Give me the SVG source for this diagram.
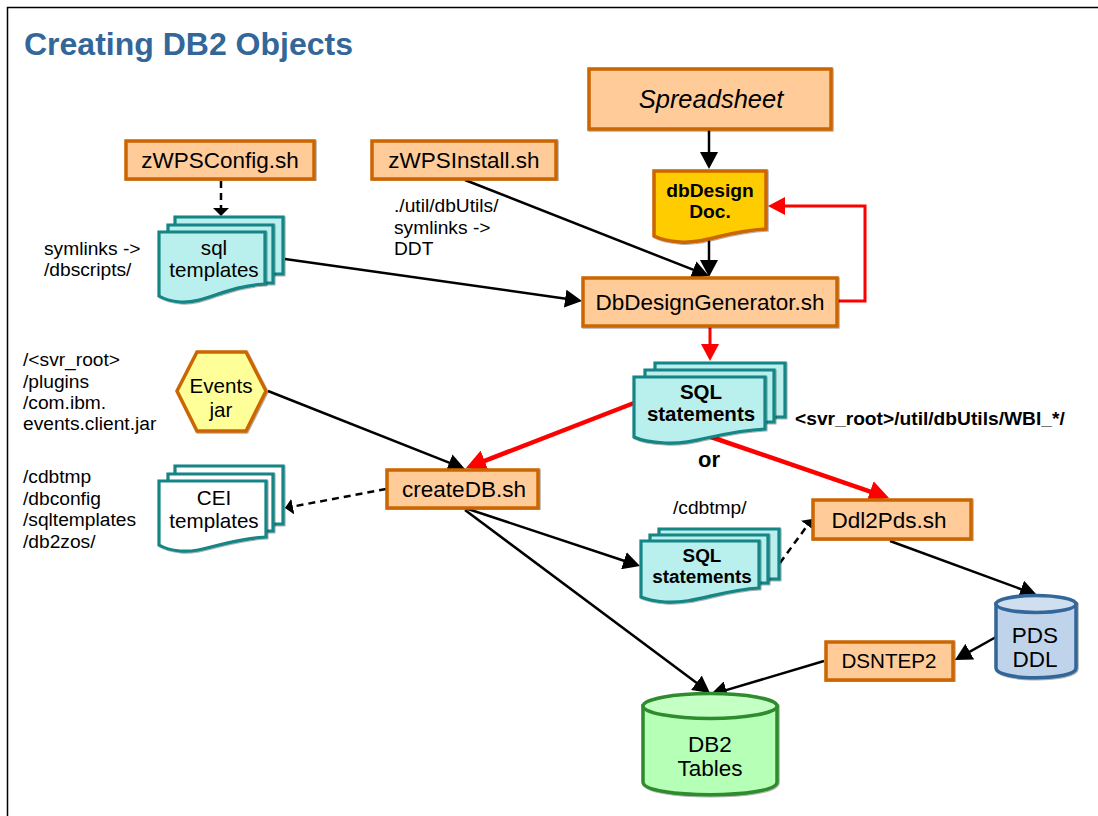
<svg xmlns="http://www.w3.org/2000/svg" width="1098" height="816" viewBox="0 0 1098 816">
<style>
text{font-family:"Liberation Sans",Arial,sans-serif;fill:#000;text-anchor:middle}
.t{font-size:22.5px}
.m{font-size:20.6px}
.l{font-size:19.2px;text-anchor:start}
.b{font-weight:bold}
.box{fill:#ffcc99;stroke:#cc6600;stroke-width:3.5;filter:url(#sh)}
.doc{fill:#b9efec;stroke:#128585;stroke-width:3.2;filter:url(#sh)}
.cei{fill:#fff;stroke:#128585;stroke-width:3.2;filter:url(#sh)}
.c{fill:none;stroke:#000;stroke-width:2.5}
.r{fill:none;stroke:#f00;stroke-width:3}
.w{stroke-width:4.5}
.d{stroke-dasharray:7 5}
.s{filter:url(#sh)}
</style>
<defs>
<filter id="sh" x="-5%" y="-5%" width="110%" height="110%"><feDropShadow dx="0.8" dy="0.8" stdDeviation="0.3" flood-color="#000" flood-opacity="0.4"/></filter>
<marker id="a" markerUnits="userSpaceOnUse" markerWidth="18" markerHeight="18" refX="8" refY="9" orient="auto" viewBox="0 0 18 18"><path d="M0 0L17 9L0 18z" fill="#000"/></marker>
<marker id="s" markerUnits="userSpaceOnUse" markerWidth="9" markerHeight="16" refX="4" refY="8" orient="auto" viewBox="0 0 9 16"><path d="M0 0L8 8L0 16z" fill="#000"/></marker>
<marker id="r" markerUnits="userSpaceOnUse" markerWidth="18" markerHeight="18" refX="8" refY="9" orient="auto" viewBox="0 0 18 18"><path d="M0 0L17 9L0 18z" fill="#f00"/></marker>
<marker id="rb" markerUnits="userSpaceOnUse" markerWidth="22" markerHeight="22" refX="11" refY="11" orient="auto" viewBox="0 0 22 22"><path d="M0 0L20 11L0 22z" fill="#f00"/></marker>
</defs>
<rect width="1098" height="816" fill="#fff"/>
<path d="M7.5 816V7.5H1098" fill="none" stroke="#000" stroke-width="1.5"/>
<text x="24" y="55" font-size="32" font-weight="bold" style="fill:#336699;text-anchor:start">Creating DB2 Objects</text>

<g id="connectors">
<path class="c" d="M709 130V160" marker-end="url(#a)"/>
<path class="c" d="M709 240V268" marker-end="url(#a)"/>
<path class="r" d="M838 301H865V206H777" marker-end="url(#r)"/>
<path class="r" d="M710 327V352" marker-end="url(#r)"/>
<path class="c d" d="M221 181V212" marker-end="url(#s)"/>
<path class="c" d="M465 180L700.6 272.7" marker-end="url(#a)"/>
<path class="c" d="M285 259L573.1 299.7" marker-end="url(#a)"/>
<path class="c" d="M268 391L456.6 465.7" marker-end="url(#a)"/>
<path class="r w" d="M634 403L474.4 464.8" marker-end="url(#rb)"/>
<path class="r w" d="M711 437L880.5 495.1" marker-end="url(#rb)"/>
<path class="c d" d="M386 489L288.9 507.3" marker-end="url(#s)"/>
<path class="c" d="M465 508L631.5 563.2" marker-end="url(#a)"/>
<path class="c" d="M465 510L702.8 687.6" marker-end="url(#a)"/>
<path class="c d" d="M780 563L809.7 522.2" marker-end="url(#s)"/>
<path class="c" d="M890 541L1028.5 591.9" marker-end="url(#a)"/>
<path class="c" d="M996 637L962.8 655.6" marker-end="url(#a)"/>
<path class="c" d="M824 661L718.6 692.4" marker-end="url(#a)"/>
</g>

<g id="spreadsheet"><rect class="box" x="589" y="69" width="242" height="60"/><text x="711" y="108" style="font-size:25.5px;font-style:italic">Spreadsheet</text></g>
<g id="dbDesignDoc"><path class="s" d="M654 171H766V229C725 231 705 244 680 242C668 241 660 239 654 236Z" fill="#ffcc00" stroke="#cc6600" stroke-width="3.5"/><text class="b" x="710" y="197" font-size="19.2">dbDesign</text><text class="b" x="710" y="218" font-size="19.2">Doc.</text></g>
<g id="dbDesignGenerator"><rect class="box" x="583" y="278" width="254" height="48"/><text class="t" x="710" y="310">DbDesignGenerator.sh</text></g>
<g id="zWPSConfig"><rect class="box" x="126" y="141" width="188" height="38"/><text class="t" x="220" y="168">zWPSConfig.sh</text></g>
<g id="zWPSInstall"><rect class="box" x="372" y="141" width="184" height="38"/><text class="t" x="464" y="168">zWPSInstall.sh</text></g>
<g id="sqlTemplates">
<path class="doc" d="M175 217H283V274H175Z"/>
<path class="doc" d="M168 225H273V283H168Z"/>
<path class="doc" d="M159 232H265V284C225 286 205 304 180 302C170 301 164 299 159 296Z"/>
<text class="m" x="214" y="255">sql</text><text class="m" x="214" y="277">templates</text></g>
<g id="eventsJar"><path class="s" d="M177 391L197 352H246L266 391L246 431H197Z" fill="#ffff99" stroke="#cc6600" stroke-width="3.5"/><text class="m" x="221" y="393">Events</text><text class="m" x="221" y="417">jar</text></g>
<g id="sqlStatements1">
<path class="doc" d="M655 363H785V417H655Z"/>
<path class="doc" d="M645 370H774V422H645Z"/>
<path class="doc" d="M634 377H765V429C720 431 695 445 665 443C650 442 640 440 634 437Z"/>
<text class="b" x="701" y="399" font-size="20.5">SQL</text><text class="b" x="701" y="421" font-size="20.5">statements</text></g>
<g id="createDB"><rect class="box" x="387" y="470" width="151" height="38"/><text class="t" x="464" y="497">createDB.sh</text></g>
<g id="ceiTemplates">
<path class="cei" d="M175 466H283V524H175Z"/>
<path class="cei" d="M168 474H273V531H168Z"/>
<path class="cei" d="M159 481H266V537C225 539 205 553 180 551C170 550 164 548 159 545Z"/>
<text class="m" x="214" y="505">CEI</text><text class="m" x="214" y="528">templates</text></g>
<g id="sqlStatements2">
<path class="doc" d="M659 529H779V579H659Z"/>
<path class="doc" d="M650 535H768V583H650Z"/>
<path class="doc" d="M641 541H759V588C720 590 695 604 665 602C652 601 646 599 641 597Z"/>
<text class="b" x="702" y="562" font-size="18.9">SQL</text><text class="b" x="702" y="583" font-size="18.9">statements</text></g>
<g id="ddl2Pds"><rect class="box" x="813" y="500" width="158" height="39"/><text class="t" x="889" y="528">Ddl2Pds.sh</text></g>
<g id="dsntep2"><rect class="box" x="826" y="642" width="127" height="38"/><text class="m" x="889" y="668">DSNTEP2</text></g>
<g id="pdsDdl"><path class="s" d="M996 604V668C996 681 1076 681 1076 668V604Z" fill="#bfd4ea" stroke="#336699" stroke-width="3.5"/><ellipse cx="1036" cy="604" rx="40" ry="8.5" fill="#cfdfef" stroke="#336699" stroke-width="3.5"/><text class="t" x="1035" y="643">PDS</text><text class="t" x="1035" y="667">DDL</text></g>
<g id="db2Tables"><path class="s" d="M643 706V782C643 799 777 799 777 782V706Z" fill="#b6ffb6" stroke="#2e8b2e" stroke-width="3.5"/><ellipse cx="710" cy="706" rx="67" ry="12.5" fill="#c4ffc4" stroke="#2e8b2e" stroke-width="3.5"/><text class="t" x="710" y="752">DB2</text><text class="t" x="710" y="776">Tables</text></g>

<g id="labels">
<text class="l" x="44" y="255">symlinks -&gt;</text><text class="l" x="44" y="276">/dbscripts/</text>
<text class="l" x="394" y="212">./util/dbUtils/</text><text class="l" x="394" y="234">symlinks -&gt;</text><text class="l" x="394" y="255">DDT</text>
<text class="l" x="23" y="366">/&lt;svr_root&gt;</text><text class="l" x="23" y="388">/plugins</text><text class="l" x="23" y="409">/com.ibm.</text><text class="l" x="23" y="430">events.client.jar</text>
<text class="l" x="23" y="483">/cdbtmp</text><text class="l" x="23" y="505">/dbconfig</text><text class="l" x="23" y="526">/sqltemplates</text><text class="l" x="23" y="548">/db2zos/</text>
<text class="l b" x="795" y="425">&lt;svr_root&gt;/util/dbUtils/WBI_*/</text>
<text class="b" x="709" y="467" font-size="22">or</text>
<text class="l" x="673" y="514">/cdbtmp/</text>
</g>
</svg>
